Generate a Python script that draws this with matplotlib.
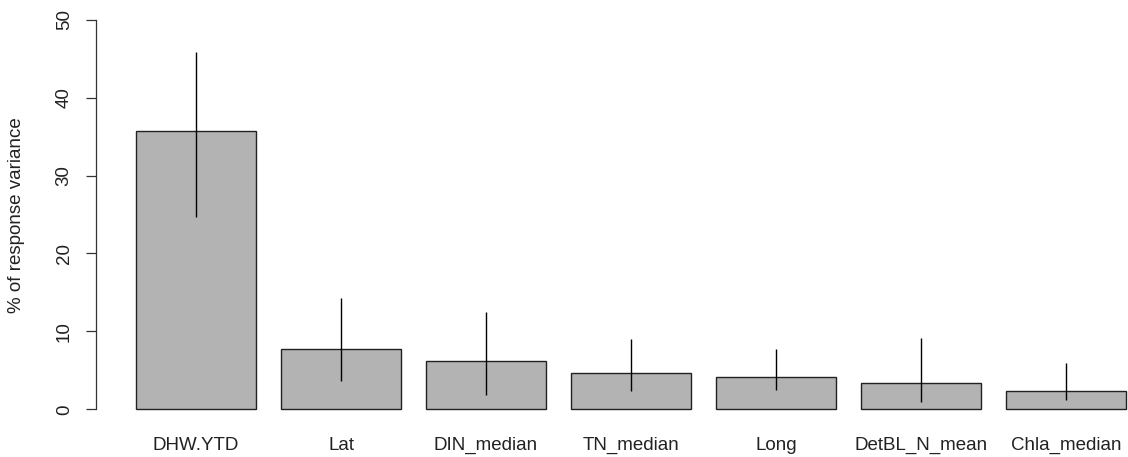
import matplotlib
matplotlib.use("Agg")
import matplotlib.pyplot as plt
import numpy as np

plt.rcParams['font.family'] = ['Liberation Sans', 'DejaVu Sans']

categories = ["DHW.YTD", "Lat", "DIN_median", "TN_median", "Long", "DetBL_N_mean", "Chla_median"]
values = [35.7, 7.74, 6.2, 4.66, 4.1, 3.34, 2.31]
err_low = [24.7, 3.67, 1.84, 2.35, 2.48, 0.9, 1.23]
err_high = [45.9, 14.25, 12.53, 8.98, 7.78, 9.11, 5.98]
y_ticks = [0, 10, 20, 30, 40, 50]

W, H = 1128, 457
fig = plt.figure(figsize=(W / 100, H / 100), dpi=100)

# pixel mapping
x0_pix, dx_pix = 196.0, 145.0
left_pix, right_pix = 95.7, 1126.9
y0_pix, y50_pix = 409.3, 19.7
ppu = (y0_pix - y50_pix) / 50.0
ylo, yhi = -1.0, 51.0
top_pix = y0_pix - yhi * ppu
bot_pix = y0_pix - ylo * ppu

ax = fig.add_axes([left_pix / W, 1 - bot_pix / H, (right_pix - left_pix) / W, (bot_pix - top_pix) / H])
ax.set_xlim((left_pix - x0_pix) / dx_pix, (right_pix - x0_pix) / dx_pix)
ax.set_ylim(ylo, yhi)

x = np.arange(len(categories))
ax.bar(x, values, width=1 / 1.2, color="#b3b3b3", edgecolor="#222222", linewidth=1.0, clip_on=False, zorder=2)
ax.vlines(x, err_low, err_high, color="black", linewidth=1.0, zorder=3, clip_on=False)

for s in ["top", "right", "bottom"]:
    ax.spines[s].set_visible(False)
ax.spines["left"].set_bounds(0, 50)
ax.spines["left"].set_linewidth(0.9)
ax.spines["left"].set_color("#333333")

ax.set_yticks(y_ticks)
ax.set_yticklabels([str(t) for t in y_ticks], rotation=90, va="center")
ax.tick_params(axis="y", length=7.5, width=0.9, color="#333333", pad=9, labelsize=13.5, labelcolor="#222222")

ax.set_xticks(x)
ax.set_xticklabels(categories)
ax.tick_params(axis="x", length=0, pad=14, labelsize=13.5, labelcolor="#222222")

fig.text(17 / W, 1 - 215 / H, "% of response variance", rotation=90, ha="center", va="center", fontsize=13.5, color="#222222")

fig.savefig("out.png", dpi=100)
